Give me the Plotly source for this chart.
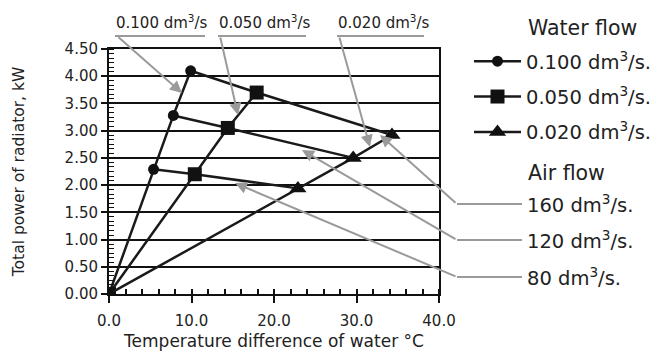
import plotly.graph_objects as go

FONT = "DejaVu Sans"

# Water flow series (x: temperature difference °C, y: total power kW)
names = ["0.100 dm<sup>3</sup>/s.", "0.050 dm<sup>3</sup>/s.", "0.020 dm<sup>3</sup>/s."]
symbols = ["circle", "square", "triangle-up"]
sizes = [11, 14, 15]
x_100 = [0.0, 5.4, 7.8, 9.9]
y_100 = [0.0, 2.29, 3.28, 4.10]
x_050 = [0.0, 10.4, 14.4, 17.9]
y_050 = [0.0, 2.20, 3.05, 3.70]
x_020 = [0.0, 22.9, 29.6, 34.3]
y_020 = [0.0, 1.94, 2.50, 2.92]
water_x = [x_100, x_050, x_020]
water_y = [y_100, y_050, y_020]

# Air flow labels
air_labels = ["160 dm<sup>3</sup>/s.", "120 dm<sup>3</sup>/s.", "80 dm<sup>3</sup>/s."]
top_labels = ["0.100 dm<sup>3</sup>/s", "0.050 dm<sup>3</sup>/s", "0.020 dm<sup>3</sup>/s"]

fig = go.Figure()

# Air flow lines (connect same air flow across water flows: index 3,2,1)
for k in [3, 2, 1]:
    fig.add_trace(go.Scatter(
        x=[water_x[i][k] for i in range(3)],
        y=[water_y[i][k] for i in range(3)],
        mode="lines", line=dict(color="#1a1a1a", width=2.5),
        showlegend=False, hoverinfo="skip"))

for i in range(3):
    fig.add_trace(go.Scatter(
        x=water_x[i], y=water_y[i], mode="lines+markers", name=names[i],
        legendgroup="g%d" % i,
        line=dict(color="#1a1a1a", width=2.5),
        marker=dict(symbol=symbols[i], size=sizes[i], color="#111"),
    ))

GRAY = "#9a9a9a"
TXT = "#222"

def px2x(px):
    return (px - 109) / 330.0

def py2y(py):
    return 1 - (py - 49) / 245.0

def arrow(sx, sy, tx, ty):
    fig.add_annotation(x=px2x(tx), y=py2y(ty), ax=sx - tx, ay=sy - ty,
                       xref="paper", yref="paper", axref="pixel", ayref="pixel",
                       text="", showarrow=True, arrowhead=2, arrowsize=1.2,
                       arrowwidth=2, arrowcolor=GRAY)

# Top labels with arrows
top_geo = [(115, 205, 182, 93), (218, 306, 238, 115), (337, 424, 370, 147)]
for txt, (x0, x1, tx, ty) in zip(top_labels, top_geo):
    fig.add_annotation(x=px2x(x0 - 1), y=py2y(34), xref="paper", yref="paper",
                       text=txt, showarrow=False, xanchor="left", yanchor="bottom",
                       font=dict(family=FONT, size=15, color=TXT))
    fig.add_shape(type="line", xref="paper", yref="paper",
                  x0=px2x(x0), x1=px2x(x1), y0=py2y(36), y1=py2y(36),
                  line=dict(color=GRAY, width=2))
    arrow(x0 + 2, 36, tx, ty)

# Legend title
fig.add_annotation(x=px2x(526), y=py2y(28), xref="paper", yref="paper",
                   text="Water flow", showarrow=False, xanchor="left", yanchor="middle",
                   font=dict(family=FONT, size=20.5, color=TXT))

# Air flow labels with leader arrows
fig.add_annotation(x=px2x(526), y=py2y(173), xref="paper", yref="paper",
                   text="Air flow", showarrow=False, xanchor="left", yanchor="middle",
                   font=dict(family=FONT, size=20.5, color=TXT))
air_rows = [(204, 380, 135), (240, 302, 150), (277, 235, 183)]
for lab, (ry, tx, ty) in zip(air_labels, air_rows):
    fig.add_annotation(x=px2x(525), y=py2y(ry), xref="paper", yref="paper",
                       text=lab, showarrow=False, xanchor="left", yanchor="middle",
                       font=dict(family=FONT, size=19.5, color=TXT))
    fig.add_shape(type="line", xref="paper", yref="paper",
                  x0=px2x(457), x1=px2x(522), y0=py2y(ry), y1=py2y(ry),
                  line=dict(color=GRAY, width=2))
    arrow(457, ry, tx, ty)

fig.update_layout(
    width=668, height=354,
    margin=dict(l=109, r=229, t=49, b=60, autoexpand=False),
    plot_bgcolor="white", paper_bgcolor="white",
    font=dict(family=FONT, size=15, color=TXT),
    legend=dict(
        x=px2x(469), y=py2y(42), xanchor="left", yanchor="top",
        font=dict(family=FONT, size=19.5, color=TXT),
        bgcolor="rgba(0,0,0,0)", itemwidth=47, tracegroupgap=7,
    ),
)
fig.update_xaxes(
    range=[0, 40], dtick=10, tickformat=".1f", showgrid=False,
    showline=True, linecolor="#111", linewidth=2, mirror=True,
    ticks="outside", ticklen=7, tickwidth=2, tickcolor="#111",
    minor=dict(dtick=2, ticks="inside", ticklen=5, tickwidth=1.5, tickcolor="#111"),
    zeroline=False, ticklabelstandoff=5, automargin=False,
    title=dict(text="Temperature difference of water °C", font=dict(size=17), standoff=6),
    tickfont=dict(size=15),
)
fig.update_yaxes(
    range=[0, 4.5], dtick=0.5, tickformat=".2f",
    showgrid=True, gridcolor="#111", gridwidth=2,
    showline=True, linecolor="#111", linewidth=2, mirror=True,
    ticks="outside", ticklen=6, tickwidth=2, tickcolor="#111",
    minor=dict(dtick=0.5 / 6, ticks="inside", ticklen=5, tickwidth=1, tickcolor="#111"),
    zeroline=False, automargin=False,
    title=dict(text="Total power of radiator, kW", font=dict(size=15.5), standoff=36),
    tickfont=dict(size=15),
)

fig.write_html("out.html")
